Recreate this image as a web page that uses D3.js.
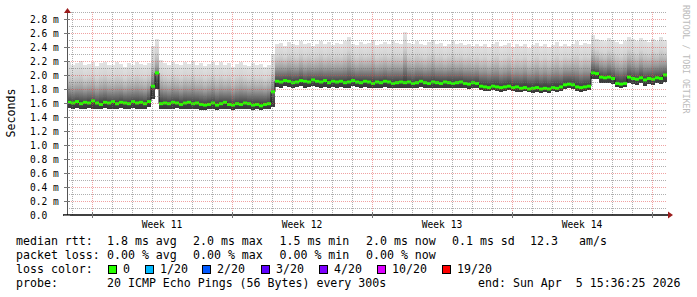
<!DOCTYPE html>
<html>
<head>
<meta charset="utf-8">
<script src="https://cdn.jsdelivr.net/npm/d3@7"></script>
<style>
body{margin:0;background:#fff;}
text{font-family:"DejaVu Sans Mono",monospace;white-space:pre;}
</style>
</head>
<body>
<div class="chart"></div>
<script>
// median / min / max rtt per 4.8h bin, in ms
var medRtt = [
 1.61,1.60,1.62,1.59,1.61,1.60,1.63,1.60,1.58,1.61,1.60,1.62,1.59,1.61,1.60,1.59,1.62,1.60,1.61,1.59,1.62,
 1.84,2.03,1.59,
 1.60,1.59,1.61,1.60,1.58,1.60,1.61,1.59,1.60,1.58,1.57,1.58,1.60,1.57,1.59,1.61,1.58,1.57,1.59,1.58,1.60,1.59,1.57,1.58,1.56,1.58,1.59,
 1.76,
 1.91,1.90,1.92,1.91,1.89,1.90,1.92,1.91,1.90,1.93,1.91,1.90,1.92,1.89,1.91,1.90,1.91,1.89,1.90,1.92,1.90,1.89,1.91,1.90,1.88,1.90,1.89,1.91,1.90,1.88,1.89,1.90,
 1.89,1.90,1.88,1.89,1.91,1.89,1.88,1.90,1.89,1.88,1.90,1.89,1.88,1.89,1.90,1.88,1.87,1.89,1.88,
 1.84,1.83,1.82,1.84,1.83,1.82,1.83,1.84,1.82,1.83,1.81,1.82,1.80,1.81,1.82,1.80,1.81,1.80,1.82,1.81,1.83,1.86,1.87,1.86,1.83,1.82,1.83,1.84,
 2.03,2.02,1.97,1.96,1.97,1.95,1.88,1.87,1.88,1.97,1.95,1.94,1.96,1.93,1.95,1.94,1.96,1.95,2.00
];
var maxRtt = [
 2.18,2.15,2.17,2.20,2.14,2.16,2.18,2.13,2.17,2.19,2.15,2.14,2.18,2.16,2.12,2.17,2.15,2.19,2.16,2.14,2.17,
 2.42,2.52,2.22,
 2.17,2.15,2.19,2.16,2.14,2.18,2.16,2.20,2.15,2.17,2.13,2.16,2.19,2.15,2.18,2.14,2.17,2.12,2.16,2.19,2.15,2.13,2.17,2.14,2.16,2.12,2.15,
 2.30,
 2.44,2.46,2.42,2.47,2.45,2.43,2.48,2.44,2.46,2.42,2.45,2.49,2.44,2.47,2.43,2.46,2.44,2.48,2.55,2.45,2.43,2.47,2.44,2.46,2.50,2.43,2.45,2.47,2.44,2.48,2.46,2.45,
 2.62,2.46,2.44,2.48,2.45,2.43,2.47,2.50,2.44,2.46,2.42,2.45,2.48,2.44,2.46,2.43,2.45,2.41,2.44,
 2.42,2.45,2.40,2.44,2.47,2.41,2.43,2.46,2.40,2.44,2.42,2.45,2.39,2.43,2.46,2.41,2.44,2.40,2.43,2.47,2.41,2.44,2.42,2.45,2.48,2.43,2.46,2.44,
 2.57,2.52,2.50,2.48,2.53,2.50,2.47,2.45,2.49,2.55,2.51,2.48,2.53,2.50,2.47,2.52,2.49,2.54,2.50
];
var minRtt = [
 1.53,1.52,1.53,1.51,1.52,1.53,1.52,1.51,1.52,1.53,1.52,1.52,1.51,1.53,1.52,1.51,1.53,1.52,1.52,1.51,1.55,
 1.66,1.80,1.52,
 1.52,1.51,1.52,1.53,1.51,1.52,1.52,1.51,1.52,1.50,1.50,1.51,1.52,1.50,1.51,1.52,1.51,1.50,1.51,1.51,1.52,1.51,1.50,1.51,1.50,1.51,1.52,
 1.55,
 1.83,1.82,1.84,1.83,1.82,1.83,1.84,1.82,1.83,1.84,1.83,1.82,1.83,1.82,1.83,1.82,1.83,1.82,1.82,1.84,1.83,1.82,1.83,1.82,1.81,1.82,1.82,1.83,1.82,1.81,1.82,1.82,
 1.82,1.82,1.81,1.82,1.83,1.82,1.81,1.82,1.82,1.81,1.82,1.82,1.81,1.82,1.82,1.81,1.80,1.81,1.81,
 1.78,1.77,1.77,1.78,1.77,1.76,1.77,1.78,1.77,1.76,1.76,1.77,1.76,1.75,1.76,1.75,1.76,1.75,1.77,1.76,1.77,1.80,1.81,1.80,1.77,1.76,1.77,1.78,
 1.95,1.94,1.89,1.88,1.89,1.87,1.83,1.82,1.83,1.88,1.87,1.86,1.88,1.85,1.87,1.86,1.88,1.87,1.90
];
var yTicks = [0,0.2,0.4,0.6,0.8,1.0,1.2,1.4,1.6,1.8,2.0,2.2,2.4,2.6,2.8];
var lossLabels = ["0","1/20","2/20","3/20","4/20","10/20","19/20"];
var lossColors = ["#26ff00","#00b8ff","#0059ff","#5e00ff","#7e00ff","#dd00ff","#ff0000"];
var rttStats = ["1.8 ms avg","2.0 ms max","1.5 ms min","2.0 ms now","0.1 ms sd"];
var lossStats = ["0.00 % avg","0.00 % max","0.00 % min","0.00 % now"];

var W = 697, H = 297;
var svg = d3.select("div.chart").append("svg")
    .attr("width",W).attr("height",H)
    .style("display","block");
svg.append("rect").attr("width",W).attr("height",H).attr("fill","#fff");

var start = new Date(2026,2,7,18), end = new Date(2026,3,6,18);
var binMs = (end-start)/medRtt.length;
var x = d3.scaleTime().domain([start,end]).range([67,667]);
var y = d3.scaleLinear().domain([0,2.9]).range([215,12]);
function t(i){ return new Date(+start + i*binMs); }

// smoke gradient
var grad = svg.append("defs").append("linearGradient")
    .attr("id","smoke").attr("x1",0).attr("y1",0).attr("x2",0).attr("y2",1);
[[0,"#e3e3e3"],[0.27,"#d4d4d4"],[0.42,"#bcbcbc"],[0.58,"#999"],[0.73,"#6c6c6c"],[0.85,"#484848"],[1,"#383838"]]
  .forEach(function(s){ grad.append("stop").attr("offset",s[0]).attr("stop-color",s[1]); });

svg.append("g").selectAll("rect").data(medRtt).enter().append("rect")
    .attr("x",function(d,i){ return x(t(i)); })
    .attr("width",function(d,i){ return x(t(i+1))-x(t(i)); })
    .attr("y",function(d,i){ return y(maxRtt[i]); })
    .attr("height",function(d,i){ return y(minRtt[i])-y(maxRtt[i]); })
    .attr("fill","url(#smoke)")
    .attr("shape-rendering","crispEdges");

// median: dark step line then green segments
var pts = medRtt.map(function(d,i){ return [t(i),d]; });
pts.push([t(medRtt.length),medRtt[medRtt.length-1]]);
svg.append("path")
    .attr("d",d3.line().x(function(d){ return x(d[0]); }).y(function(d){ return y(d[1]); }).curve(d3.curveStepAfter)(pts))
    .attr("fill","none").attr("stroke","#1a1a1a").attr("stroke-width",1);
svg.append("g").selectAll("line").data(medRtt).enter().append("line")
    .attr("x1",function(d,i){ return x(t(i)); })
    .attr("x2",function(d,i){ return x(t(i+1)); })
    .attr("y1",function(d){ return y(d); })
    .attr("y2",function(d){ return y(d); })
    .attr("stroke",lossColors[0]).attr("stroke-width",3);

// grid
var minorCol = "rgba(110,110,110,0.55)", majorCol = "rgba(225,70,70,0.5)";
var grid = svg.append("g").attr("shape-rendering","crispEdges");
d3.range(1,30).forEach(function(i){
    var yy = Math.round(y(i/10))+0.5;
    grid.append("line").attr("x1",67).attr("x2",667).attr("y1",yy).attr("y2",yy)
        .attr("stroke",i%2==0 ? majorCol : minorCol)
        .attr("stroke-dasharray","1,1");
});
var mondays = d3.timeMonday.range(start,end).map(Number);
d3.timeDay.range(start,end).forEach(function(d){
    var xx = Math.round(x(d))+0.5;
    var major = mondays.indexOf(+d)>=0;
    grid.append("line").attr("x1",xx).attr("x2",xx).attr("y1",12).attr("y2",215)
        .attr("stroke",major ? majorCol : minorCol)
        .attr("stroke-dasharray","1,1");
});

// axes
svg.append("line").attr("x1",67.5).attr("x2",67.5).attr("y1",215).attr("y2",12)
    .attr("stroke","#555").attr("stroke-width",1);
svg.append("line").attr("x1",63).attr("x2",668).attr("y1",215).attr("y2",215)
    .attr("stroke","#000").attr("stroke-width",1.5);
svg.append("path").attr("d","M64,13L71,13L67.5,8Z").attr("fill","#9b1c1c");
svg.append("path").attr("d","M668,211.5L668,218.5L673,215Z").attr("fill","#9b1c1c");

svg.append("g").selectAll("line").data(yTicks).enter().append("line")
    .attr("x1",64).attr("x2",70)
    .attr("y1",function(d){ return Math.round(y(d))+0.5; })
    .attr("y2",function(d){ return Math.round(y(d))+0.5; })
    .attr("stroke","#777");
svg.append("g").selectAll("line").data(mondays).enter().append("line")
    .attr("x1",function(d){ return Math.round(x(d))+0.5; })
    .attr("x2",function(d){ return Math.round(x(d))+0.5; })
    .attr("y1",212).attr("y2",218)
    .attr("stroke","#777");

svg.append("g").selectAll("text").data(yTicks).enter().append("text")
    .attr("x",30).attr("y",function(d){ return y(d)+3.5; })
    .attr("font-size","9.6px").attr("fill","#000")
    .text(function(d){ return d==0 ? "0.0" : d.toFixed(1)+" m"; });

var fmtWeek = d3.timeFormat("Week %V");
svg.append("g").selectAll("text").data(mondays).enter().append("text")
    .attr("x",function(d){ return x(d3.timeHour.offset(new Date(d),84)); })
    .attr("y",228).attr("text-anchor","middle")
    .attr("font-size","9.6px").attr("fill","#000")
    .text(function(d){ return fmtWeek(new Date(d)); });

svg.append("text").attr("transform","translate(15,113) rotate(-90)")
    .attr("text-anchor","middle").attr("font-size","11.6px").attr("fill","#000")
    .text("Seconds");
svg.append("text").attr("transform","translate(683,5) rotate(90)")
    .attr("font-size","8.2px").attr("fill","#bbb")
    .text("RRDTOOL / TOBI OETIKER");

// legend
var leg = svg.append("g").attr("font-size","11.6px").attr("fill","#000");
var cols = [107,193,279.5,366,452];
leg.append("text").attr("x",16).attr("y",245).text("median rtt:");
rttStats.forEach(function(s,i){ leg.append("text").attr("x",cols[i]).attr("y",245).text(s); });
leg.append("text").attr("x",530).attr("y",245).text("12.3");
leg.append("text").attr("x",579).attr("y",245).text("am/s");
leg.append("text").attr("x",16).attr("y",259).text("packet loss:");
lossStats.forEach(function(s,i){ leg.append("text").attr("x",cols[i]).attr("y",259).text(s); });
leg.append("text").attr("x",16).attr("y",273).text("loss color:");
var sqx = [109,146,203,262,320,378,443];
lossLabels.forEach(function(l,i){
    leg.append("rect").attr("x",sqx[i]-0.5).attr("y",265.5).attr("width",8).attr("height",8)
        .attr("fill",lossColors[i]).attr("stroke","#000").attr("stroke-width",1);
    leg.append("text").attr("x",sqx[i]+14).attr("y",273).text(l);
});
leg.append("text").attr("x",16).attr("y",287).text("probe:");
leg.append("text").attr("x",107).attr("y",287).text("20 ICMP Echo Pings (56 Bytes) every 300s");
leg.append("text").attr("x",478).attr("y",287).text("end: Sun Apr  5 15:36:25 2026");
</script>
</body>
</html>
